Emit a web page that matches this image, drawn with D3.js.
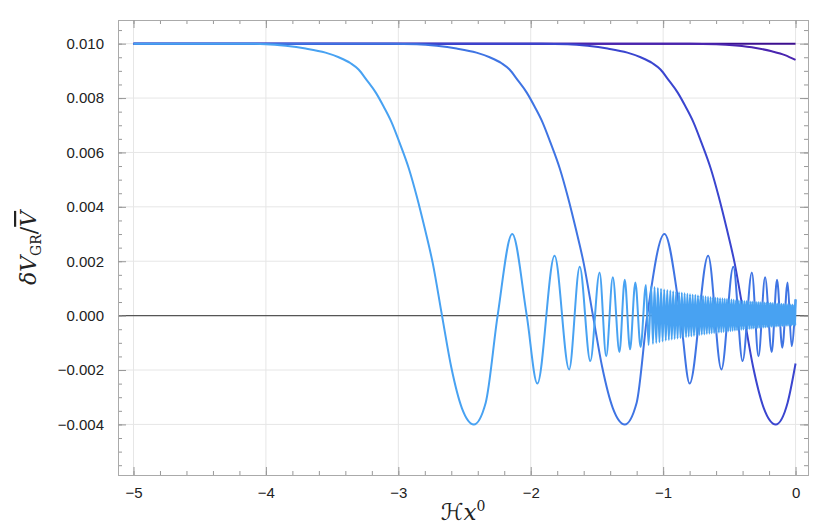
<!DOCTYPE html>
<html><head><meta charset="utf-8">
<script src="https://cdn.jsdelivr.net/npm/d3@7"></script>
<style>body{margin:0;background:#fff}</style>
</head><body><div id="chart"></div>
<script>
// curves, extrema and turning points as [x, y]
const curveLight = [[-5,0.01],[-4.2,0.01],[-4,0.00998],[-3.85,0.00992],[-3.7,0.00982],[-3.55,0.00967],[-3.45,0.0095],
  [-3.36,0.00928],[-3.3,0.00905],[-3.24,0.00867],[-3.17,0.0082],[-3.11,0.00768],[-3.05,0.0071],[-2.99,0.00635],
  [-2.92,0.0054],[-2.86,0.00437],[-2.8,0.0032],[-2.74,0.00193],[-2.67,0],[-2.6,-0.0019],[-2.52,-0.0034],[-2.43,-0.004],[-2.34,-0.0032],
  [-2.25,0],[-2.14,0.003],[-2.03,0],[-1.95,-0.0025],[-1.82,0.0022],[-1.71,-0.00198],[-1.63,0.0018],[-1.55,-0.00167],
  [-1.48,0.00159],[-1.43,-0.00149],[-1.38,0.00141],[-1.33,-0.00134],[-1.29,0.00132],[-1.25,-0.00124],[-1.21,0.00122],
  [-1.17,-0.00115],[-1.13,0.00113],[-1.11,-0.00108],[-1.09,0.00108],[-1.077,-0.00104],[-1.065,0.00105],[-1.052,-0.00101],
  [-1.04,0.00102],[-1.028,-0.00098],[-1.016,0.00099],[-1.004,-0.00095],[-0.992,0.00096],[-0.98,-0.00092],[-0.969,0.00094],
  [-0.957,-0.0009],[-0.946,0.00092],[-0.935,-0.00088],[-0.924,0.0009],[-0.913,-0.00086],[-0.902,0.00088],[-0.891,-0.00084],
  [-0.88,0.00086],[-0.869,-0.00082],[-0.859,0.00084],[-0.848,-0.0008],[-0.838,0.00082],[-0.827,-0.00079],[-0.817,0.0008],
  [-0.807,-0.00077],[-0.797,0.00079],[-0.787,-0.00076],[-0.777,0.00077],[-0.767,-0.00074],[-0.757,0.00076],[-0.747,-0.00073],
  [-0.737,0.00074],[-0.727,-0.00071],[-0.718,0.00073],[-0.708,-0.0007],[-0.699,0.00072],[-0.689,-0.00069],[-0.68,0.0007],
  [-0.67,-0.00067],[-0.661,0.00069],[-0.651,-0.00066],[-0.642,0.00068],[-0.633,-0.00065],[-0.624,0.00067],[-0.615,-0.00064],
  [-0.606,0.00066],[-0.597,-0.00063],[-0.588,0.00065],[-0.579,-0.00062],[-0.57,0.00064],[-0.561,-0.00061],[-0.552,0.00063],
  [-0.543,-0.0006],[-0.535,0.00062],[-0.526,-0.00059],[-0.518,0.00061],[-0.509,-0.00058],[-0.501,0.0006],[-0.492,-0.00057],
  [-0.484,0.00059],[-0.475,-0.00056],[-0.467,0.00058],[-0.458,-0.00055],[-0.45,0.00057],[-0.442,-0.00054],[-0.434,0.00057],
  [-0.426,-0.00053],[-0.418,0.00056],[-0.41,-0.00052],[-0.402,0.00055],[-0.394,-0.00051],[-0.386,0.00054],[-0.378,-0.0005],
  [-0.37,0.00054],[-0.362,-0.0005],[-0.354,0.00053],[-0.346,-0.00049],[-0.338,0.00052],[-0.33,-0.00048],[-0.323,0.00052],
  [-0.315,-0.00047],[-0.308,0.00051],[-0.3,-0.00046],[-0.293,0.0005],[-0.285,-0.00046],[-0.278,0.0005],[-0.27,-0.00045],
  [-0.263,0.00049],[-0.255,-0.00044],[-0.248,0.00049],[-0.24,-0.00044],[-0.233,0.00048],[-0.225,-0.00043],[-0.218,0.00048],
  [-0.211,-0.00042],[-0.204,0.00047],[-0.197,-0.00042],[-0.19,0.00047],[-0.183,-0.00041],[-0.176,0.00046],[-0.169,-0.00041],
  [-0.162,0.00046],[-0.155,-0.0004],[-0.148,0.00045],[-0.141,-0.0004],[-0.134,0.00045],[-0.127,-0.00039],[-0.12,0.00044],
  [-0.113,-0.00039],[-0.106,0.00044],[-0.099,-0.00038],[-0.092,0.00043],[-0.085,-0.00038],[-0.078,0.00043],[-0.071,-0.00037],
  [-0.064,0.00042],[-0.057,-0.00037],[-0.05,0.00042],[-0.043,-0.00037],[-0.036,0.00041],[-0.029,-0.00036],[-0.022,0.00041],
  [-0.015,-0.00036],[-0.008,0.0004],[-0.002,-0.00036],[0,0.0006]];
const curveMid = [[-5,0.01],[-3.06,0.01],[-2.86,0.00998],[-2.71,0.00992],[-2.56,0.00982],[-2.41,0.00967],[-2.31,0.0095],
  [-2.22,0.00928],[-2.16,0.00905],[-2.1,0.00867],[-2.03,0.0082],[-1.97,0.00768],[-1.91,0.0071],[-1.85,0.00635],
  [-1.78,0.0054],[-1.72,0.00437],[-1.66,0.0032],[-1.6,0.00193],[-1.53,0],[-1.46,-0.0019],[-1.38,-0.0034],[-1.29,-0.004],
  [-1.2,-0.0032],[-1.12,0],[-0.99,0.003],[-0.87,0],[-0.8,-0.0025],[-0.66,0.0022],[-0.56,-0.00198],[-0.47,0.0018],[-0.4,-0.00167],
  [-0.33,0.00159],[-0.28,-0.00149],[-0.23,0.00141],[-0.18,-0.00134],[-0.14,0.00132],[-0.1,-0.00118],[-0.06,0.00122],
  [-0.03,-0.00112],[0,0.00059]];
const curveDark = [[-5,0.01],[-1.92,0.01],[-1.72,0.00998],[-1.57,0.00992],[-1.42,0.00982],[-1.27,0.00967],[-1.17,0.0095],
  [-1.08,0.00928],[-1.02,0.00905],[-0.96,0.00867],[-0.89,0.0082],[-0.83,0.00768],[-0.77,0.0071],[-0.71,0.00635],
  [-0.64,0.0054],[-0.58,0.00437],[-0.52,0.0032],[-0.46,0.00193],[-0.39,0],[-0.32,-0.0019],[-0.24,-0.0034],[-0.15,-0.004],
  [-0.06,-0.0032],[0,-0.00176]];
const curvePurple = [[-5,0.01],[-0.8,0.01],[-0.6,0.00998],[-0.45,0.00993],[-0.3,0.00984],[-0.18,0.00972],[-0.08,0.00958],[0,0.0094]];
const curveDeep = [[-5,0.01],[0,0.01]];
const series = [
  {pts: curveDeep, color: "#3c0f8f"},
  {pts: curvePurple, color: "#4a25b0"},
  {pts: curveDark, color: "#3a45cf"},
  {pts: curveMid, color: "#3f74e3"},
  {pts: curveLight, color: "#48a2f2"}
];
const xTicks = [-5, -4, -3, -2, -1, 0];
const yTicks = [-0.004, -0.002, 0, 0.002, 0.004, 0.006, 0.008, 0.01];

const W = 830, H = 529;
const L = 118, R = 808, T = 20, B = 475;
const x = d3.scaleLinear().domain([-5.117, 0.094]).range([L, R]);
const y = d3.scaleLinear().domain([-0.00586, 0.01087]).range([B, T]);

const svg = d3.select("#chart").append("svg").attr("width", W).attr("height", H)
  .style("font-family", "'Liberation Sans', Arial, sans-serif");

// grid
svg.append("g").selectAll("line").data(xTicks).join("line")
  .attr("x1", d => x(d)).attr("x2", d => x(d)).attr("y1", T).attr("y2", B)
  .attr("stroke", "#e6e6e6").attr("stroke-width", 1);
svg.append("g").selectAll("line").data(yTicks).join("line")
  .attr("x1", L).attr("x2", R).attr("y1", d => y(d)).attr("y2", d => y(d))
  .attr("stroke", "#e6e6e6").attr("stroke-width", 1);

// zero line
svg.append("line").attr("x1", L).attr("x2", R).attr("y1", y(0)).attr("y2", y(0))
  .attr("stroke", "#555").attr("stroke-width", 1.2);

const line = d3.line().x(d => x(d[0])).y(d => y(d[1])).curve(d3.curveMonotoneX);
svg.append("g").selectAll("path").data(series).join("path")
  .attr("d", d => line(d.pts)).attr("fill", "none")
  .attr("stroke", d => d.color).attr("stroke-width", 2);

// frame with inward ticks
const fmtX = d => d < 0 ? "\u2212" + Math.abs(d) : String(d);
const fmtY = d => d < 0 ? "\u2212" + Math.abs(d).toFixed(3) : d.toFixed(3);
const ax = (g, axis) => { g.call(axis); g.select(".domain").attr("stroke", "#aaa");
  g.selectAll(".tick line").attr("stroke", "#999");
  g.selectAll("text").attr("font-size", 15).attr("fill", "#222"); };

svg.append("g").attr("transform", `translate(0,${B})`)
  .call(g => ax(g, d3.axisBottom(x).tickValues(d3.range(-5, 0.01, 0.2)).tickSize(-4).tickFormat("")));
svg.append("g").attr("transform", `translate(0,${B})`)
  .call(g => ax(g, d3.axisBottom(x).tickValues(xTicks).tickSize(-8).tickPadding(12).tickFormat(fmtX)));
svg.append("g").attr("transform", `translate(0,${T})`)
  .call(g => ax(g, d3.axisTop(x).tickValues(d3.range(-5, 0.01, 0.2)).tickSize(-4).tickFormat("")));
svg.append("g").attr("transform", `translate(0,${T})`)
  .call(g => ax(g, d3.axisTop(x).tickValues(xTicks).tickSize(-8).tickFormat("")));
svg.append("g").attr("transform", `translate(${L},0)`)
  .call(g => ax(g, d3.axisLeft(y).tickValues(d3.range(-0.0055, 0.0106, 0.0005)).tickSize(-4).tickFormat("")));
svg.append("g").attr("transform", `translate(${L},0)`)
  .call(g => ax(g, d3.axisLeft(y).tickValues(yTicks).tickSize(-8).tickPadding(14).tickFormat(fmtY)));
svg.append("g").attr("transform", `translate(${R},0)`)
  .call(g => ax(g, d3.axisRight(y).tickValues(d3.range(-0.0055, 0.0106, 0.0005)).tickSize(-4).tickFormat("")));
svg.append("g").attr("transform", `translate(${R},0)`)
  .call(g => ax(g, d3.axisRight(y).tickValues(yTicks).tickSize(-8).tickFormat("")));

// axis titles
const xt = svg.append("text").attr("x", (L + R) / 2).attr("y", 520).attr("text-anchor", "middle")
  .attr("font-family", "'DejaVu Serif', serif").attr("font-size", 23).attr("fill", "#222");
xt.append("tspan").attr("font-family", "'DejaVu Sans', sans-serif").text("\u210B");
xt.append("tspan").attr("font-style", "italic").text("x");
xt.append("tspan").attr("dy", -9).attr("font-size", 14).text("0");

const yt = svg.append("text").attr("transform", "translate(36,248) rotate(-90)").attr("text-anchor", "middle")
  .attr("font-family", "'DejaVu Serif', serif").attr("font-size", 22).attr("fill", "#222");
yt.append("tspan").attr("font-style", "italic").text("\u03B4V");
yt.append("tspan").attr("dy", 5).attr("font-size", 14).text("GR");
yt.append("tspan").attr("dy", -5).text("/");
yt.append("tspan").attr("font-style", "italic").attr("text-decoration", "overline").text("V");
</script></body></html>
